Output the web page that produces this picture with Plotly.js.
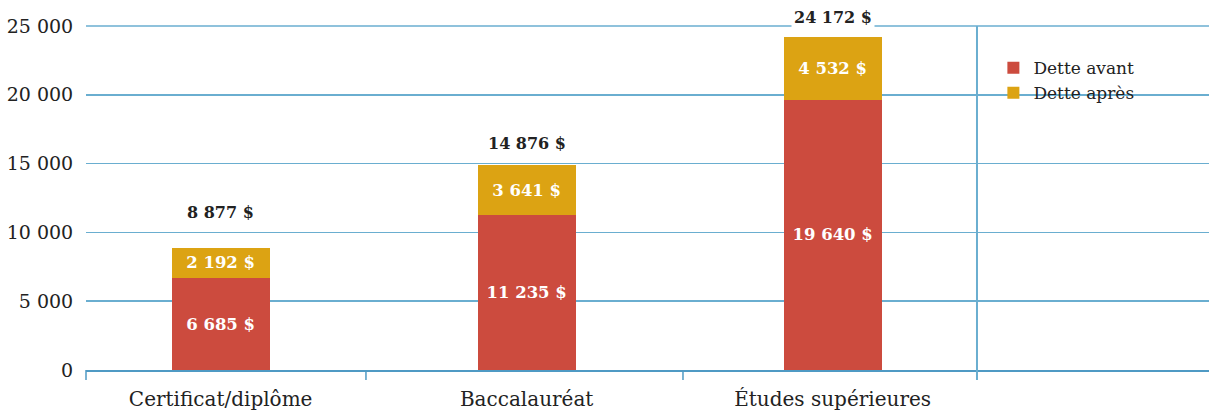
<!DOCTYPE html>
<html><head><meta charset="utf-8">
<script src="https://cdn.plot.ly/plotly-3.0.1.min.js"></script>
<style>body{margin:0;background:#fff}#c{width:1209px;height:410px}</style>
</head><body><div id="c"></div>
<script>
const categories = ["Certificat/diplôme", "Baccalauréat", "Études supérieures"];
const detteAvant = [6685, 11235, 19640];
const detteApres = [2192, 3641, 4532];
const totals = [8877, 14876, 24172];
const yTickVals = [0, 5000, 10000, 15000, 20000, 25000];
const yTickText = ["0", "5 000", "10 000", "15 000", "20 000", "25 000"];

const fmt = v => String(v).replace(/\B(?=(\d{3})+(?!\d))/g, " ") + " $";
const FONT = "DejaVu Serif";
const RED = "#cc4b3e", GOLD = "#dca313", BLUE = "#6aaed0", AXIS = "#4f9ac4";

const traces = [
  {type:"bar", name:"Dette avant", x:categories, y:detteAvant, marker:{color:RED},
   text:detteAvant.map(fmt), textposition:"inside", insidetextanchor:"middle",
   textfont:{family:FONT, size:16.5, color:"#fff", weight:"bold"}, width:0.32, hoverinfo:"none"},
  {type:"bar", name:"Dette après", x:categories, y:detteApres, marker:{color:GOLD},
   text:detteApres.map(fmt), textposition:"inside", insidetextanchor:"middle",
   textfont:{family:FONT, size:16.5, color:"#fff", weight:"bold"}, width:0.32, hoverinfo:"none"}
];

const shifts = [23, 9, 7];
const annotations = categories.map((c,i) => ({
  x:c, y:totals[i], xref:"x", yref:"y", text:"<b>"+fmt(totals[i])+"</b>", showarrow:false,
  yanchor:"bottom", yshift:shifts[i], bgcolor:"#fff", borderpad:2,
  font:{family:FONT, size:16, color:"#222"}
}));

const tickXs = [0, 0.2493, 0.5316];
const shapes = tickXs.map(x => ({type:"line", xref:"paper", yref:"paper", x0:x, x1:x, y0:0, y1:-0.029,
  line:{color:AXIS, width:1.5}}));
shapes.push({type:"line", xref:"paper", yref:"paper", x0:0.7934, x1:0.7934, y0:-0.029, y1:1,
  line:{color:BLUE, width:2}});
shapes.push({type:"line", xref:"paper", yref:"paper", x0:0, x1:1, y0:1, y1:1, layer:"below",
  line:{color:BLUE, width:1.5}});

const layout = {
  width:1209, height:410,
  margin:{l:86, r:0, t:26, b:40},
  paper_bgcolor:"#fff", plot_bgcolor:"#fff",
  barmode:"stack",
  font:{family:FONT, size:18, color:"#222"},
  xaxis:{type:"category", range:[-0.44, 3.23], showgrid:false, showline:true, linecolor:AXIS, linewidth:2,
    ticks:"outside", ticklen:10, tickcolor:"rgba(0,0,0,0)", tickfont:{family:FONT, size:20, color:"#222"}, fixedrange:true},
  yaxis:{range:[0,25000], tickvals:yTickVals, ticktext:yTickText, gridcolor:BLUE, gridwidth:1.5,
    zeroline:false, showline:false, ticks:"outside", ticklen:8, tickcolor:"rgba(0,0,0,0)",
    tickfont:{family:FONT, size:19, color:"#222"}, fixedrange:true},
  legend:{x:0.808, y:0.93, xanchor:"left", yanchor:"top", traceorder:"normal",
    font:{family:FONT, size:17, color:"#222"}, bgcolor:"rgba(0,0,0,0)", tracegroupgap:0},
  showlegend:true,
  annotations:annotations,
  shapes:shapes
};
Plotly.newPlot("c", traces, layout, {displayModeBar:false, staticPlot:true});
</script></body></html>
